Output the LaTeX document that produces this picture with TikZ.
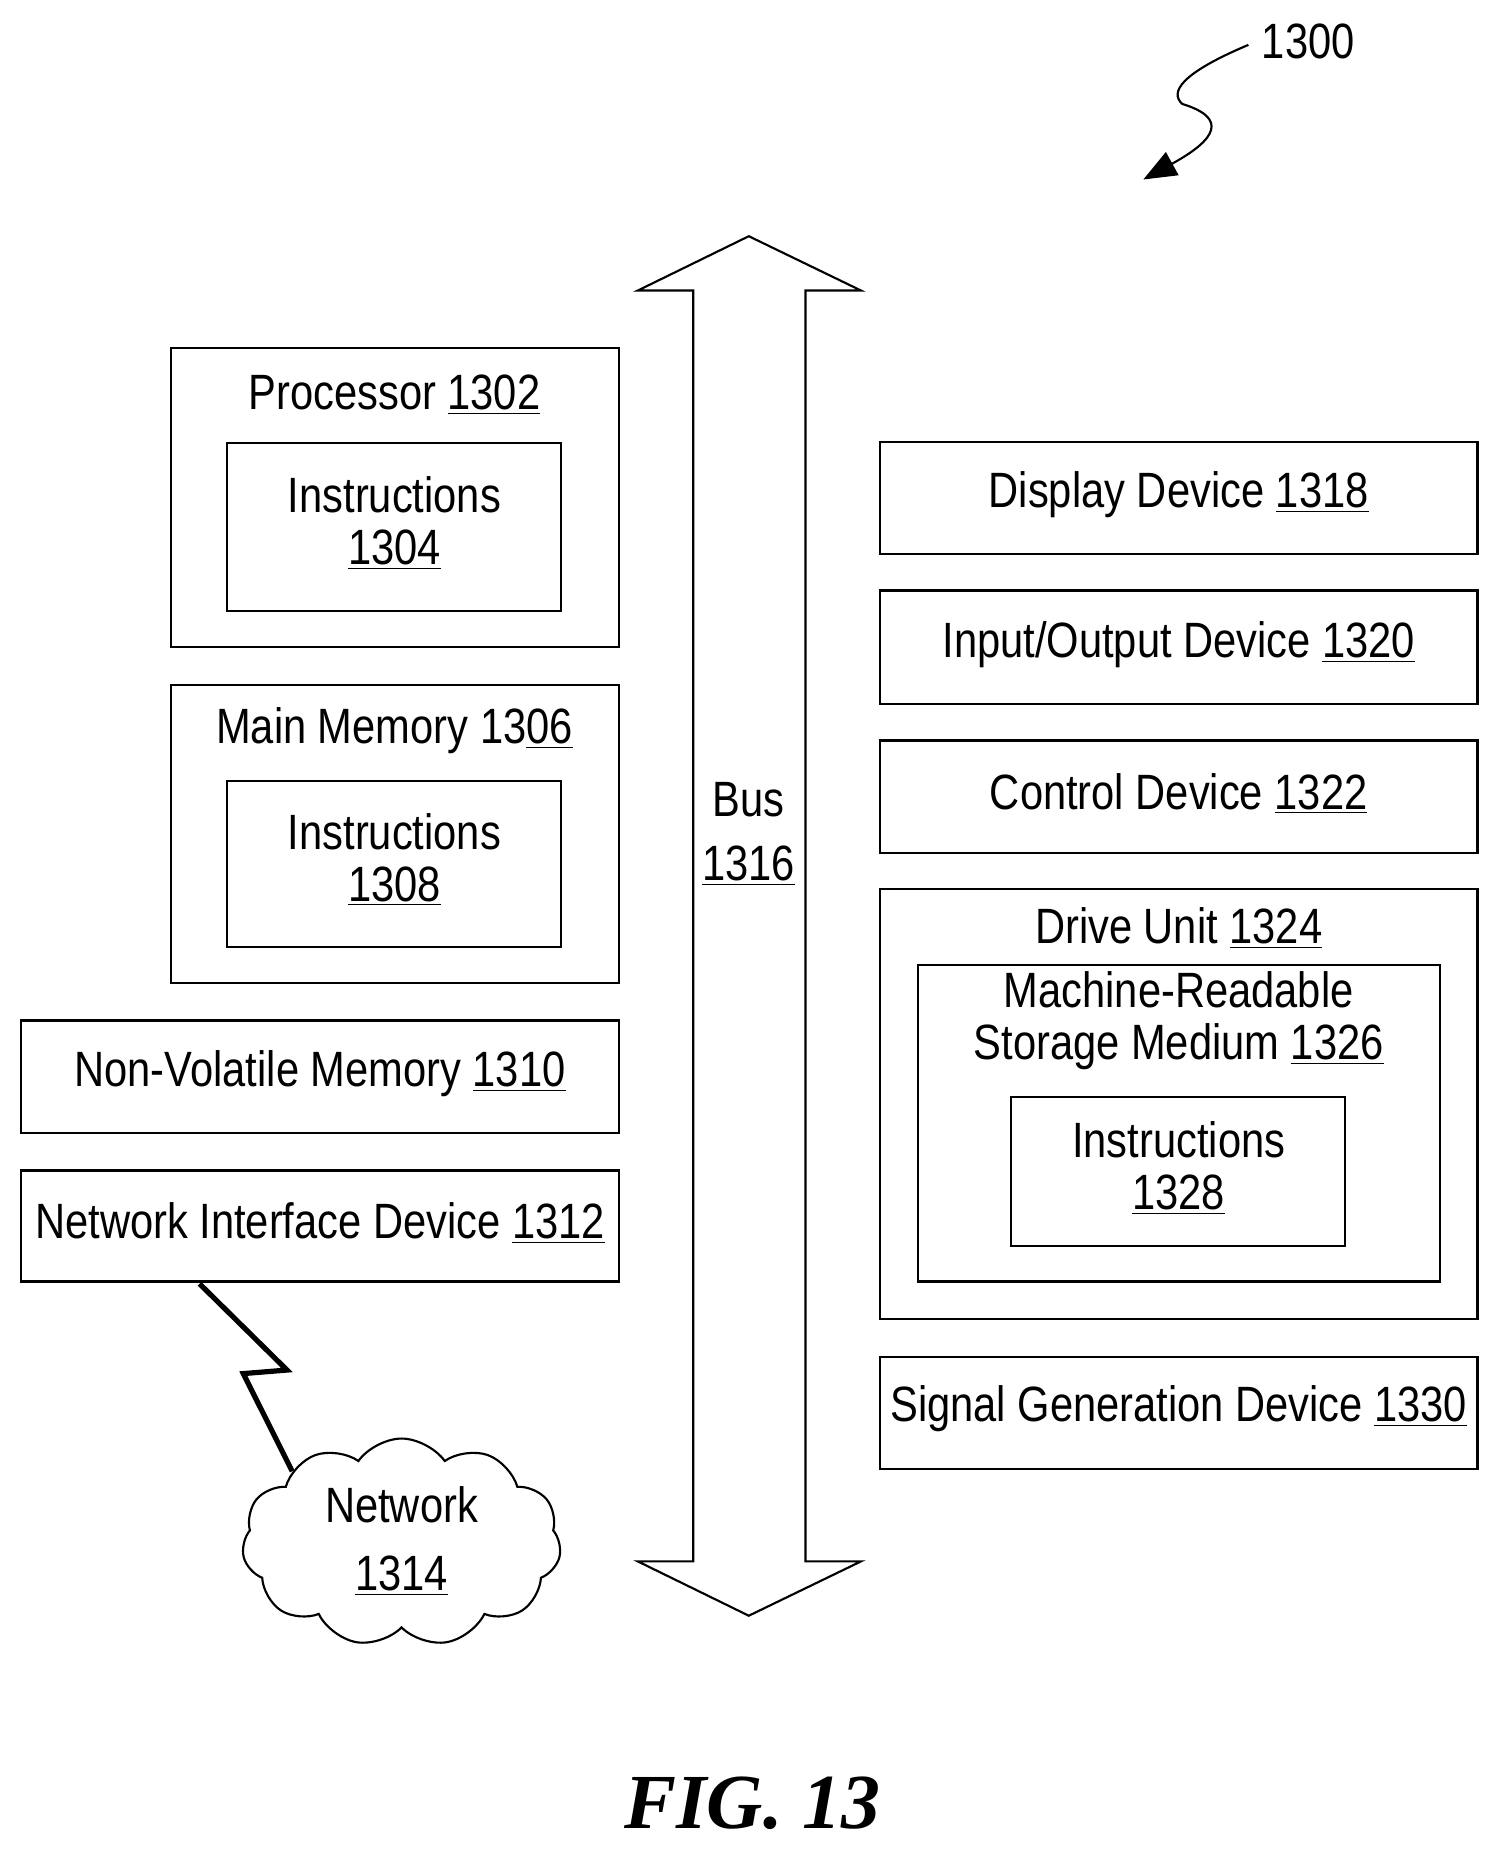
\documentclass[tikz,border=0pt]{standalone}
\usepackage{fontspec}
\setmainfont{Liberation Sans}[FakeStretch=0.84]
\newfontfamily\figfont{Liberation Serif}
\usetikzlibrary{shapes.symbols,arrows.meta}
\begin{document}
\begin{tikzpicture}[x=0.5pt,y=-0.5pt,
  box/.style={draw,line width=0.9pt,inner sep=0pt},
  lbl/.style={font=\fontsize{21}{25}\selectfont,inner sep=0pt,align=center}]
\useasboundingbox (0,0) rectangle (1275,1574);
% boxes: (x1,y1)-(x2,y2)
\newcommand\bx[5]{\node[box,minimum width={(#4-#2)*0.5pt},minimum height={(#5-#3)*0.5pt}] (#1) at ({(#2+#4)/2},{(#3+#5)/2}) {};}
\bx{proc}{145}{295}{524}{548}
\bx{pins}{192}{375}{475}{517}
\bx{mem}{145}{580}{524}{832}
\bx{mins}{192}{661}{475}{802}
\bx{nvm}{18}{864}{524}{959}
\bx{nic}{18}{991}{524}{1085}
\bx{disp}{745}{374}{1251}{469}
\bx{io}{745}{500}{1251}{596}
\bx{ctl}{745}{627}{1251}{722}
\bx{drv}{745}{753}{1251}{1117}
\bx{mrsm}{777}{817}{1219}{1085}
\bx{dins}{856}{929}{1139}{1055}
\bx{sig}{745}{1149}{1251}{1244}
\node[lbl] (tproc) at (334,334) {Processor \underline{1302}};
\node[lbl] (tpins) at (334,443) {Instructions\\[-3pt]\underline{1304}};
\node[lbl] (tmem) at (334,619) {Main Memory 13\underline{06}};
\node[lbl] (tmins) at (334,728) {Instructions\\[-3pt]\underline{1308}};
\node[lbl] (tnvm) at (271,909) {Non-Volatile Memory \underline{1310}};
\node[lbl] (tnic) at (271,1036) {Network Interface Device \underline{1312}};
\node[lbl] (tdisp) at (998,419) {Display Device \underline{1318}};
\node[lbl] (tio) at (998,546) {Input/Output Device \underline{1320}};
\node[lbl] (tctl) at (998,672) {Control Device \underline{1322}};
\node[lbl] (tdrv) at (998,786) {Drive Unit \underline{1324}};
\node[lbl] (tmrsm) at (998,864) {Machine-Readable\\[-3pt]Storage Medium \underline{1326}};
\node[lbl] (tdins) at (998,989) {Instructions\\[-3pt]\underline{1328}};
\node[lbl] (tsig) at (998,1193) {Signal Generation Device \underline{1330}};
% bus
\draw[line width=0.9pt,fill=white] (634,200) -- (729,246) -- (682,246) -- (682,1322) -- (729,1322) -- (634,1368) -- (540,1322) -- (587,1322) -- (587,246) -- (540,246) -- cycle;
\node[lbl] (tbus) at (634,706) {Bus\\[2pt]\underline{1316}};
% cloud
\node[cloud,draw,line width=0.9pt,cloud puffs=11,cloud puff arc=110,aspect=1.5,minimum width=135pt,minimum height=88pt,inner sep=0pt] (net) at (340,1306) {};
\node[lbl] (tnet) at (340,1305) {Network\\[4pt]\underline{1314}};
% lightning
\coordinate (z1) at (243,1160);
\coordinate (z2) at (206,1163);
\draw[line width=2.2pt,line join=miter] (169,1087) -- (z1) -- (z2) -- (net.north west);
% 1300
\node[lbl,font=\fontsize{21}{25}\selectfont,anchor=west] (t1300) at (1068,35) {1300};
\coordinate (tip) at (968,152);
\draw[line width=0.9pt,-{Triangle[length=14pt,width=11pt]}] (1057,38) .. controls (1000,62) and (990,78) .. (1001,88) .. controls (1040,100) and (1030,118) .. (tip);
\node[inner sep=0pt] (fig) at (637,1527) {\figfont\bfseries\itshape\fontsize{33}{36}\selectfont FIG. 13};
\end{tikzpicture}
\end{document}
